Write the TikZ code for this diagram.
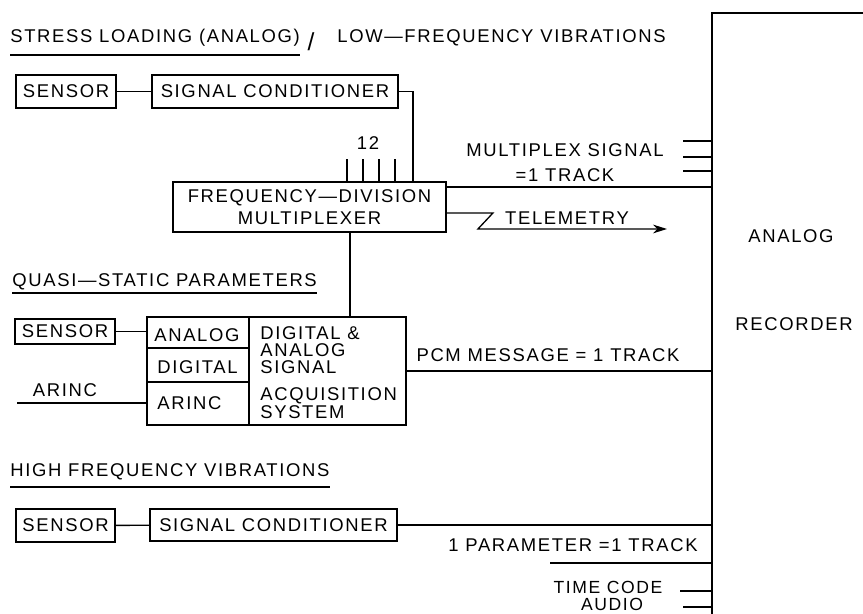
\documentclass[tikz,border=0pt]{standalone}
\usepackage{fontspec}
\setmainfont{Liberation Sans}[LetterSpace=9]
\usetikzlibrary{arrows.meta,positioning,calc}

\begin{document}
\begin{tikzpicture}[
  x=0.02cm, y=-0.02cm,
  font=\fontsize{10.5}{12.5}\selectfont,
  blk/.style={draw, line width=1.2pt, inner sep=0pt, align=center},
  wire/.style={line width=0.75pt},
  lbl/.style={inner sep=0pt, anchor=base},
  ttl/.style={inner sep=0pt, anchor=base west},
  uline/.style={line width=0.75pt}
]
\useasboundingbox (0,0) rectangle (863,614);

% recorder
\coordinate (rec) at (712,13);
\draw[line width=1.2pt] (863,13) -- (rec) -- (712,614);
\node[lbl] (recA) at (791,243) {ANALOG};
\node[lbl] (recR) at (794,331) {RECORDER};

% stress loading / low-frequency vibrations
\node[ttl] (ttl1) at (10,43) {STRESS LOADING (ANALOG)};
\draw[uline] ($(ttl1.base west)+(0,12)$) -- ($(ttl1.base east)+(0,12)$);
\node[inner sep=0pt, font=\fontsize{14}{14}\selectfont] (slash) at (311,42) {/};
\node[ttl] (ttl2) at (337,43) {LOW—FREQUENCY VIBRATIONS};

\node[blk, minimum width=2cm, minimum height=0.66cm] (sens1) at (66,91.5) {SENSOR};
\node[blk, minimum width=4.92cm, minimum height=0.66cm] (cond1) at (275,91.5) {SIGNAL CONDITIONER};
\node[blk, line width=1.1pt, minimum width=5.46cm, minimum height=1cm] (mux) at (309.5,207) {FREQUENCY—DIVISION\\MULTIPLEXER};

\draw[wire] (sens1) -- (cond1);
\draw[wire] (cond1.east) -| ([xshift=2.07cm]mux.north);
\foreach \dx in {37.5,53.5,69.5,85.5}
  \draw[wire] ([xshift=\dx*0.02cm]mux.north) -- ++(0,-22);
\node[lbl] (n12) at (368,150) {12};

\coordinate (mo) at ([yshift=0.4cm]mux.east);
\draw[wire] (mo) -- (mo -| rec);
\node[inner sep=0pt, align=center] (mpx) at (565,162.5) {MULTIPLEX SIGNAL\\[1.4pt]=1 TRACK};
\foreach \dy in {128,144,158}
  \draw[wire] (rec) ++(-29,\dy) -- ++(29,0);

\coordinate (tmo) at ([yshift=-0.12cm]mux.east);
\coordinate (tel) at (667,229);
\draw[wire, -{Stealth[length=8pt,width=5pt]}] (tmo) -- ++(46,0) -- ++(-15,16) -- (tel);
\node[lbl] (telL) at (567,225) {TELEMETRY};

% quasi-static parameters
\node[ttl] (ttl3) at (12,287) {QUASI—STATIC PARAMETERS};
\draw[uline] ($(ttl3.base west)+(0,6)$) -- ($(ttl3.base east)+(0,6)$);

\node[blk, minimum width=2cm, minimum height=0.5cm] (sens2) at (65,331.5) {SENSOR};
\node[draw, line width=1.1pt, minimum width=5.18cm, minimum height=2.16cm] (dasa) at (276.5,371) {};
\draw[wire] (dasa.north west) ++(103,0) -- ++(0,108);
\draw[wire] (dasa.north west) ++(0,32) -- ++(103,0);
\draw[wire] (dasa.north west) ++(0,66) -- ++(103,0);
\node[ttl] (anaIn) at (154,342) {ANALOG};
\node[ttl] (digIn) at (157,374) {DIGITAL};
\node[ttl] (arIn) at (157,410) {ARINC};
\foreach \t/\y [count=\i] in {DIGITAL \&/340, ANALOG/357, SIGNAL/374, ACQUISITION/401, SYSTEM/419}
  \node[ttl] (acq\i) at (260,\y) {\t};

\draw[wire] (sens2.east) -- (sens2.east -| dasa.west);
\coordinate (arsrc) at (17,403);
\draw[wire] (arsrc) -- (arsrc -| dasa.west);
\node[lbl] (arL) at (65,397) {ARINC};
\coordinate (drop) at ([xshift=0.81cm]mux.south);
\draw[wire] (drop) -- (drop |- dasa.north);
\draw[wire] (dasa.east) -- (dasa.east -| rec);
\node[lbl] (pcm) at (548,362) {PCM MESSAGE = 1 TRACK};

% high frequency vibrations
\node[ttl] (ttl4) at (10,477) {HIGH FREQUENCY VIBRATIONS};
\draw[uline] ($(ttl4.base west)+(0,10)$) -- ($(ttl4.base east)+(0,10)$);

\node[blk, minimum width=1.98cm, minimum height=0.66cm] (sens3) at (65.5,525.5) {SENSOR};
\node[blk, minimum width=4.94cm, minimum height=0.64cm] (cond3) at (273.5,525) {SIGNAL CONDITIONER};
\draw[wire] (sens3) -- (cond3);
\draw[wire] (cond3.east) -- (cond3.east -| rec);
\node[lbl] (par) at (573,552) {1 PARAMETER =1 TRACK};
\draw[wire] (rec) ++(-162,550) -- ++(162,0);
\node[lbl, font=\fontsize{10}{12}\selectfont] (tc) at (608,594) {TIME CODE};
\draw[wire] (rec) ++(-32,578) -- ++(32,0);
\node[lbl, font=\fontsize{10}{12}\selectfont] (au) at (612,610.5) {AUDIO};
\draw[wire] (rec) ++(-29,594) -- ++(29,0);
\end{tikzpicture}
\end{document}
